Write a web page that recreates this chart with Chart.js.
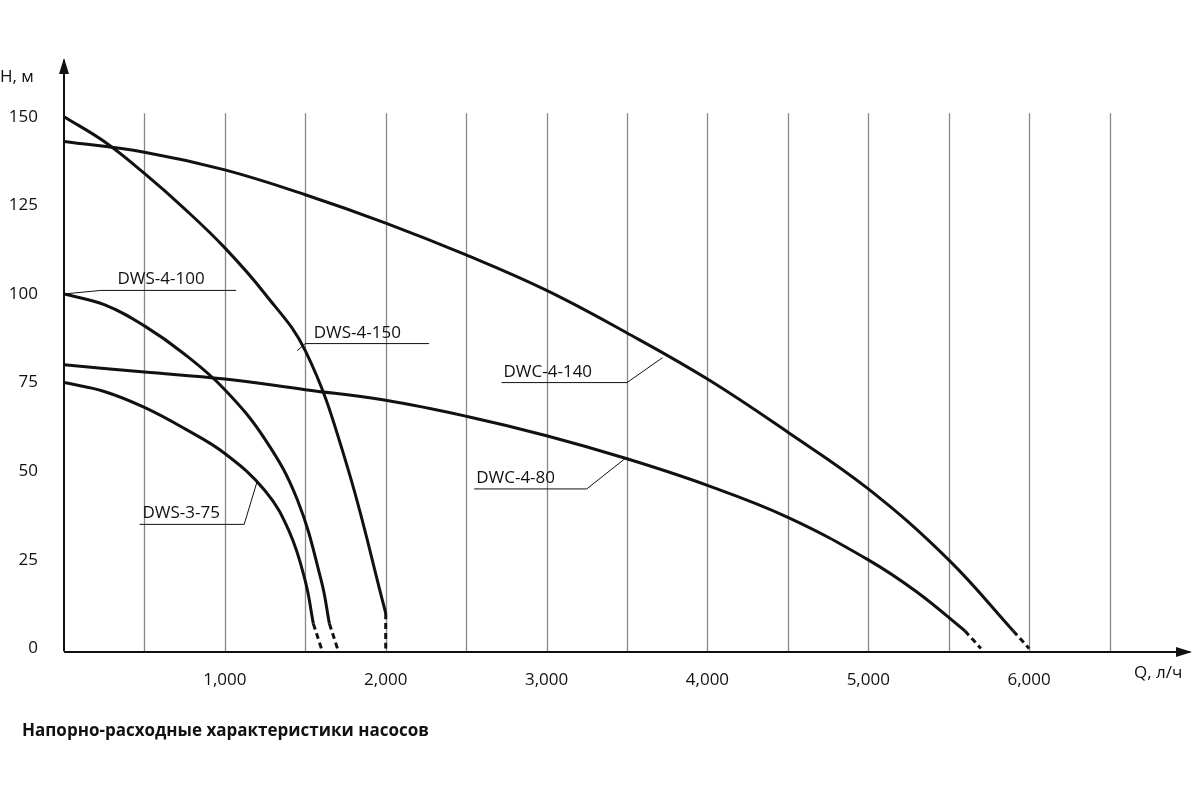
<!DOCTYPE html>
<html><head><meta charset="utf-8">
<script src="https://cdn.jsdelivr.net/npm/chart.js@4"></script>
<style>html,body{margin:0;background:#fff}#w{width:1200px;height:800px}</style>
</head><body><div id="w"><canvas id="c"></canvas></div>
<script>
const yTicks=[0,25,50,75,100,125,150];
const xTicks=[1000,2000,3000,4000,5000,6000];
const dws375=[[0,75],[250,72.5],[500,68],[750,62],[1000,55],[1250,44.5],[1400,33],[1500,19],[1550,7]];
const dws375d=[[1550,7],[1600,0]];
const dws4100=[[0,100],[250,97],[500,91],[750,83],[1000,73],[1250,59],[1450,42],[1600,19],[1650,7]];
const dws4100d=[[1650,7],[1700,0]];
const dws4150=[[0,150],[250,143],[500,134],[750,124],[1000,113],[1250,100],[1500,84],[1750,53],[2000,10]];
const dws4150d=[[2000,10],[2000,0]];
const dwc4140=[[0,143],[500,140],[1000,135],[1500,128],[2000,120],[2500,111],[3000,101],[3500,89],[4000,76],[4500,61],[5000,45],[5500,25],[5900,5]];
const dwc4140d=[[5900,5],[6000,0]];
const dwc480=[[0,80],[500,78],[1000,76],[1500,73],[2000,70],[2500,65.5],[3000,60],[3500,53.5],[4000,46],[4500,37],[5000,25],[5300,16],[5600,5]];
const dwc480d=[[5600,5],[5700,0]];
const labels=[
 {t:'DWS-4-100',x:320,y:101,tx:0,ty:100,ux1:230,ux2:1070},
 {t:'DWS-4-150',x:1540,y:86,tx:1450,ty:84,ux1:1500,ux2:2270},
 {t:'DWC-4-140',x:2720,y:75,tx:3720,ty:82,ux1:2720,ux2:3500},
 {t:'DWS-3-75',x:475,y:35,tx:1200,ty:47,ux1:470,ux2:1120},
 {t:'DWC-4-80',x:2550,y:45,tx:3500,ty:54,ux1:2550,ux2:3250}
];
const pts=a=>a.map(p=>({x:p[0],y:p[1]}));
const ds=(a,d)=>({data:pts(a),borderColor:'#111',borderWidth:3,pointRadius:0,fill:false,tension:0.4,borderDash:d?[6,4]:[]});
const grid={id:'grid',beforeDatasetsDraw(c){
 const g=c.ctx,xs=c.scales.x,ys=c.scales.y;g.save();g.strokeStyle='#888';g.lineWidth=1.3;
 for(let v=500;v<=6500;v+=500){const px=Math.round(xs.getPixelForValue(v))+0.5;
  g.beginPath();g.moveTo(px,ys.getPixelForValue(151));g.lineTo(px,652);g.stroke();}
 g.restore();}};
const deco={id:'deco',afterDraw(c){
 const g=c.ctx,xs=c.scales.x,ys=c.scales.y,a=c.chartArea;
 g.save();g.strokeStyle='#111';g.fillStyle='#111';g.lineWidth=2;
 g.beginPath();g.moveTo(a.left,ys.getPixelForValue(0)+3);g.lineTo(a.left,a.top);g.stroke();
 g.beginPath();g.moveTo(a.left-5,a.top+14);g.lineTo(a.left,a.top-2);g.lineTo(a.left+5,a.top+14);g.fill();
 g.beginPath();g.moveTo(a.left,652);g.lineTo(a.right,652);g.stroke();
 g.beginPath();g.moveTo(a.right-14,647);g.lineTo(a.right+2,652);g.lineTo(a.right-14,657);g.fill();
 g.font='17px "Open Sans"';g.textBaseline='middle';
 g.fillText('H, м',0,77);g.fillText('Q, л/ч',1134,673);
 g.font='bold 17px "Open Sans"';g.fillText('Напорно-расходные характеристики насосов',22,731);
 g.font='17px "Open Sans"';g.lineWidth=1;
 labels.forEach(l=>{const px=xs.getPixelForValue(l.x),py=ys.getPixelForValue(l.y);
  g.textBaseline='alphabetic';g.fillText(l.t,px+2,py-6);
  const u1=xs.getPixelForValue(l.ux1),u2=xs.getPixelForValue(l.ux2);
  g.beginPath();g.moveTo(u1,py);g.lineTo(u2,py);
  const tx=xs.getPixelForValue(l.tx),ty=ys.getPixelForValue(l.ty);
  if(l.tx<=l.ux1){g.moveTo(u1,py);g.lineTo(tx,ty);}else{g.moveTo(u2,py);g.lineTo(tx,ty);}
  g.stroke();});
 g.restore();}};
new Chart(document.getElementById('c'),{type:'line',
 data:{datasets:[ds(dws375),ds(dws375d,1),ds(dws4100),ds(dws4100d,1),ds(dws4150),ds(dws4150d,1),ds(dwc4140),ds(dwc4140d,1),ds(dwc480),ds(dwc480d,1)]},
 options:{responsive:true,maintainAspectRatio:false,animation:false,
  layout:{padding:{left:0,right:10,top:60,bottom:108}},
  plugins:{legend:{display:false},tooltip:{enabled:false}},
  scales:{
   x:{type:'linear',min:0,max:7000,border:{display:false},
    afterBuildTicks:s=>{s.ticks=xTicks.map(v=>({value:v}));},
    afterFit:s=>{s.height=40;},
    grid:{display:false},
    ticks:{autoSkip:false,maxRotation:0,padding:10,color:'#111',font:{family:'Open Sans',size:17}}},
   y:{min:-1,max:166,border:{display:false},grid:{display:false},
    afterBuildTicks:s=>{s.ticks=yTicks.map(v=>({value:v}));},
    afterFit:s=>{s.width=64;},
    ticks:{padding:18,color:'#111',font:{family:'Open Sans',size:17}}}
  }},plugins:[grid,deco]});
</script></body></html>
